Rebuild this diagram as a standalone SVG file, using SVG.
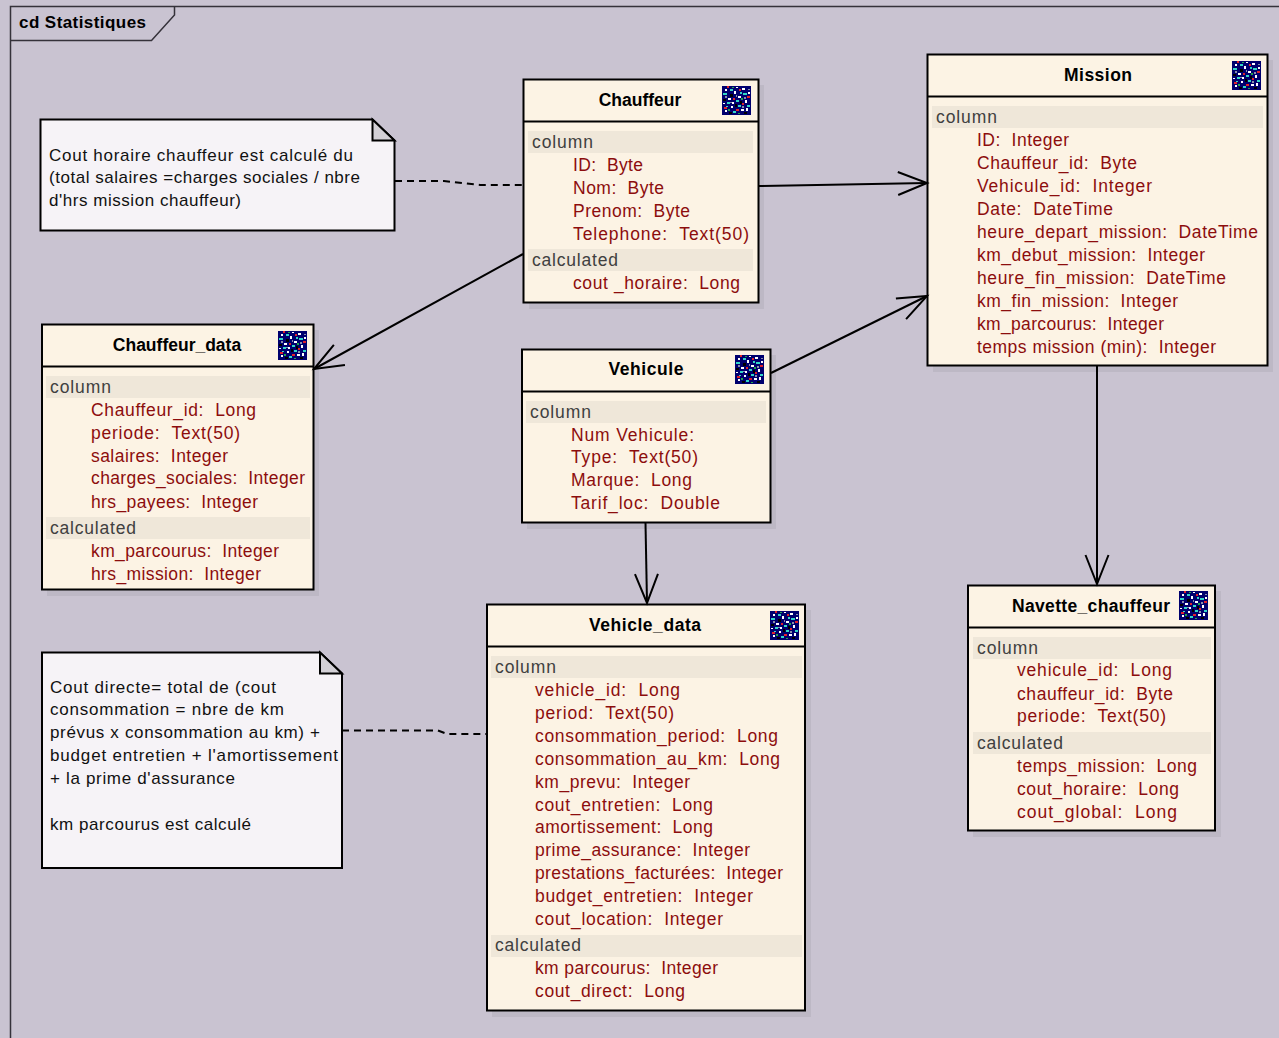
<svg xmlns="http://www.w3.org/2000/svg" width="1279" height="1038" viewBox="0 0 1279 1038">
<style>
text{font-family:"Liberation Sans",Arial,sans-serif;font-size:17.5px;white-space:pre}
.bg{fill:#c9c3d1}
.box{fill:#fcf3e4;stroke:#000;stroke-width:2}
.sh{fill:#bdb8c5}
.hd{stroke:#000;stroke-width:2;fill:none}
.band{fill:#efe7d9}
.t{font-weight:bold;text-anchor:middle;fill:#000}
.s{fill:#404040}
.r{fill:#8c0d0d}
.n{fill:#111;font-size:17px}
.note{fill:#f6f3f7;stroke:#000;stroke-width:2}
.fold{fill:#d3d0d6;stroke:#000;stroke-width:2}
.c{stroke:#000;stroke-width:2;fill:none}
.d{stroke:#000;stroke-width:2;fill:none;stroke-dasharray:7 5}
.fr{stroke:#35323a;stroke-width:1.5;fill:none}
</style>
<defs>
<marker id="open" markerUnits="userSpaceOnUse" markerWidth="34" markerHeight="30" refX="30" refY="15" orient="auto"><path d="M1 3.500 L30 15 L1 26.500" fill="none" stroke="#000" stroke-width="2"/></marker>
<symbol id="ic" viewBox="0 0 29 29" width="29" height="29">
<rect width="29" height="29" fill="#00006e"/>
<g fill="#fff"><rect x="3" y="3" width="2" height="2"/><rect x="12" y="5" width="2" height="3"/><rect x="20" y="2" width="3" height="2"/><rect x="6" y="12" width="3" height="2"/><rect x="16" y="10" width="3" height="2"/><rect x="23" y="14" width="2" height="3"/><rect x="9" y="20" width="2" height="2"/><rect x="19" y="23" width="3" height="2"/><rect x="3" y="24" width="2" height="2"/><rect x="24" y="22" width="2" height="3"/><rect x="14" y="1" width="2" height="1"/><rect x="10" y="16" width="2" height="2"/><rect x="1" y="17" width="2" height="1"/><rect x="26" y="6" width="2" height="2"/></g>
<g fill="#31d6c6"><rect x="1" y="7" width="4" height="2"/><rect x="8" y="3" width="3" height="2"/><rect x="5" y="16" width="3" height="2"/><rect x="14" y="14" width="3" height="2"/><rect x="21" y="7" width="4" height="2"/><rect x="11" y="25" width="3" height="2"/><rect x="25" y="19" width="3" height="2"/><rect x="16" y="19" width="3" height="2"/><rect x="4" y="20" width="2" height="1"/><rect x="18" y="6" width="2" height="2"/></g>
<g fill="#e0202c"><rect x="5" y="0" width="2" height="2"/><rect x="25" y="10" width="3" height="2"/><rect x="2" y="21" width="3" height="2"/><rect x="14" y="23" width="3" height="2"/><rect x="11" y="12" width="2" height="2"/><rect x="17" y="3" width="2" height="2"/><rect x="20" y="17" width="2" height="2"/></g>
<g fill="#000"><rect x="8" y="8" width="3" height="3"/><rect x="18" y="15" width="2" height="3"/><rect x="13" y="18" width="2" height="3"/><rect x="1" y="13" width="3" height="2"/><rect x="22" y="26" width="3" height="2"/><rect x="7" y="26" width="3" height="2"/></g>
<g fill="#8a8fa8"><rect x="14" y="9" width="1" height="2"/><rect x="20" y="20" width="2" height="2"/><rect x="8" y="16" width="2" height="1"/><rect x="26" y="3" width="2" height="1"/><rect x="3" y="10" width="2" height="2"/><rect x="22" y="11" width="2" height="2"/></g>
<g fill="#1fa84a"><rect x="10" y="1" width="2" height="1"/><rect x="19" y="12" width="2" height="2"/><rect x="6" y="23" width="2" height="2"/><rect x="16" y="27" width="2" height="1"/></g>
</symbol>
</defs>
<rect class="bg" width="1279" height="1038"/>
<g id="frame">
<path class="fr" d="M1279 6.500H10.500V1038"/>
<path class="fr" d="M10.500 40.500H151.500L174.500 15V6.500"/>
<text x="19" y="28" textLength="127" style="font-weight:bold;font-size:17px">cd Statistiques</text>
</g>
<g id="note1">
<path class="note" d="M40.500 119.500H372.500L394.500 140.500V230.500H40.500Z"/>
<path class="fold" d="M372.500 119.500L394.500 140.500H372.500Z"/>
<text class="n" x="49" y="161" textLength="304">Cout horaire chauffeur est calculé du</text>
<text class="n" x="49" y="183" textLength="311">(total salaires =charges sociales / nbre</text>
<text class="n" x="49" y="206" textLength="192">d'hrs mission chauffeur)</text>
</g>
<g id="note2">
<path class="note" d="M42 652.500H320L342 673.500V868H42Z"/>
<path class="fold" d="M320 652.500L342 673.500H320Z"/>
<text class="n" x="50" y="693" textLength="226">Cout directe= total de (cout</text>
<text class="n" x="50" y="715" textLength="234">consommation = nbre de km</text>
<text class="n" x="50" y="738" textLength="270">prévus x consommation au km) +</text>
<text class="n" x="50" y="761" textLength="288">budget entretien + l'amortissement</text>
<text class="n" x="50" y="784" textLength="185">+ la prime d'assurance</text>
<text class="n" x="50" y="830" textLength="201">km parcourus est calculé</text>
</g>
<g id="chauffeur">
<rect class="sh" x="529" y="85" width="235" height="224"/>
<rect class="box" x="523.500" y="79.500" width="235" height="223"/>
<path class="hd" d="M523.500 121.500H758"/>
<use href="#ic" x="722" y="86"/>
<rect class="band" x="528" y="131" width="225" height="22"/>
<rect class="band" x="528" y="249" width="225" height="22"/>
<text class="t" x="640" y="106">Chauffeur</text>
<text class="s" x="532" y="148" textLength="61">column</text>
<text class="r" x="573" y="171" textLength="70">ID:  Byte</text>
<text class="r" x="573" y="194" textLength="91">Nom:  Byte</text>
<text class="r" x="573" y="217" textLength="117">Prenom:  Byte</text>
<text class="r" x="573" y="240" textLength="176">Telephone:  Text(50)</text>
<text class="s" x="532" y="266" textLength="86">calculated</text>
<text class="r" x="573" y="289" textLength="167">cout _horaire:  Long</text>
</g>
<g id="mission">
<rect class="sh" x="933" y="60" width="340" height="312"/>
<rect class="box" x="927.500" y="54.500" width="340" height="311"/>
<path class="hd" d="M927.500 96.500H1267"/>
<use href="#ic" x="1232" y="61"/>
<rect class="band" x="932" y="106" width="331" height="22"/>
<text class="t" x="1098" y="81" textLength="68">Mission</text>
<text class="s" x="936" y="123" textLength="61">column</text>
<text class="r" x="977" y="146" textLength="92">ID:  Integer</text>
<text class="r" x="977" y="169" textLength="160">Chauffeur_id:  Byte</text>
<text class="r" x="977" y="192" textLength="175">Vehicule_id:  Integer</text>
<text class="r" x="977" y="215" textLength="136">Date:  DateTime</text>
<text class="r" x="977" y="238" textLength="281">heure_depart_mission:  DateTime</text>
<text class="r" x="977" y="261" textLength="228">km_debut_mission:  Integer</text>
<text class="r" x="977" y="284" textLength="249">heure_fin_mission:  DateTime</text>
<text class="r" x="977" y="307" textLength="201">km_fin_mission:  Integer</text>
<text class="r" x="977" y="330" textLength="187">km_parcourus:  Integer</text>
<text class="r" x="977" y="353" textLength="239">temps mission (min):  Integer</text>
</g>
<g id="chauffeur_data">
<rect class="sh" x="47" y="330" width="272" height="266"/>
<rect class="box" x="42" y="324.500" width="271.500" height="265"/>
<path class="hd" d="M42 366.500H313"/>
<use href="#ic" x="278" y="331"/>
<rect class="band" x="46" y="376" width="264" height="22"/>
<rect class="band" x="46" y="517" width="264" height="22"/>
<text class="t" x="177" y="351">Chauffeur_data</text>
<text class="s" x="50" y="393" textLength="61">column</text>
<text class="r" x="91" y="416" textLength="165">Chauffeur_id:  Long</text>
<text class="r" x="91" y="439" textLength="149">periode:  Text(50)</text>
<text class="r" x="91" y="462" textLength="137">salaires:  Integer</text>
<text class="r" x="91" y="484" textLength="214">charges_sociales:  Integer</text>
<text class="r" x="91" y="508" textLength="167">hrs_payees:  Integer</text>
<text class="s" x="50" y="534" textLength="86">calculated</text>
<text class="r" x="91" y="557" textLength="188">km_parcourus:  Integer</text>
<text class="r" x="91" y="580" textLength="170">hrs_mission:  Integer</text>
</g>
<g id="vehicule">
<rect class="sh" x="527" y="355" width="249" height="174"/>
<rect class="box" x="522" y="349.500" width="248.500" height="173"/>
<path class="hd" d="M522 391.500H770"/>
<use href="#ic" x="735" y="355"/>
<rect class="band" x="526" y="401" width="240" height="22"/>
<text class="t" x="646" y="375" textLength="75">Vehicule</text>
<text class="s" x="530" y="418" textLength="61">column</text>
<text class="r" x="571" y="441" textLength="123">Num Vehicule:</text>
<text class="r" x="571" y="463" textLength="127">Type:  Text(50)</text>
<text class="r" x="571" y="486" textLength="121">Marque:  Long</text>
<text class="r" x="571" y="509" textLength="149">Tarif_loc:  Double</text>
</g>
<g id="vehicle_data">
<rect class="sh" x="492" y="610" width="319" height="407"/>
<rect class="box" x="487" y="604.500" width="318" height="406"/>
<path class="hd" d="M487 646.500H805"/>
<use href="#ic" x="770" y="611"/>
<rect class="band" x="491" y="656" width="311" height="22"/>
<rect class="band" x="491" y="935" width="311" height="22"/>
<text class="t" x="645" y="631" textLength="112">Vehicle_data</text>
<text class="s" x="495" y="673" textLength="61">column</text>
<text class="r" x="535" y="696" textLength="145">vehicle_id:  Long</text>
<text class="r" x="535" y="719" textLength="139">period:  Text(50)</text>
<text class="r" x="535" y="742" textLength="243">consommation_period:  Long</text>
<text class="r" x="535" y="765" textLength="245">consommation_au_km:  Long</text>
<text class="r" x="535" y="788" textLength="155">km_prevu:  Integer</text>
<text class="r" x="535" y="811" textLength="178">cout_entretien:  Long</text>
<text class="r" x="535" y="833" textLength="178">amortissement:  Long</text>
<text class="r" x="535" y="856" textLength="215">prime_assurance:  Integer</text>
<text class="r" x="535" y="879" textLength="248">prestations_facturées:  Integer</text>
<text class="r" x="535" y="902" textLength="218">budget_entretien:  Integer</text>
<text class="r" x="535" y="925" textLength="188">cout_location:  Integer</text>
<text class="s" x="495" y="951" textLength="86">calculated</text>
<text class="r" x="535" y="974" textLength="183">km parcourus:  Integer</text>
<text class="r" x="535" y="997" textLength="150">cout_direct:  Long</text>
</g>
<g id="navette_chauffeur">
<rect class="sh" x="973" y="591" width="248" height="246"/>
<rect class="box" x="968" y="585.500" width="247" height="245"/>
<path class="hd" d="M968 627.500H1215"/>
<use href="#ic" x="1179" y="591"/>
<rect class="band" x="973" y="637" width="238" height="22"/>
<rect class="band" x="973" y="732" width="238" height="22"/>
<text class="t" x="1091" y="612" textLength="158">Navette_chauffeur</text>
<text class="s" x="977" y="654" textLength="61">column</text>
<text class="r" x="1017" y="676" textLength="155">vehicule_id:  Long</text>
<text class="r" x="1017" y="700" textLength="156">chauffeur_id:  Byte</text>
<text class="r" x="1017" y="722" textLength="149">periode:  Text(50)</text>
<text class="s" x="977" y="749" textLength="86">calculated</text>
<text class="r" x="1017" y="772" textLength="180">temps_mission:  Long</text>
<text class="r" x="1017" y="795" textLength="162">cout_horaire:  Long</text>
<text class="r" x="1017" y="818" textLength="160">cout_global:  Long</text>
</g>
<g id="connectors">
<path class="d" d="M395 181H444L480 185H523"/>
<path class="d" d="M342 730.500H438L447 734H487"/>
<path class="c" marker-end="url(#open)" d="M759 186L927 183"/>
<path class="c" marker-end="url(#open)" d="M523 254L314 369"/>
<path class="c" marker-end="url(#open)" d="M771 373L927 296"/>
<path class="c" marker-end="url(#open)" d="M645.500 523L647 603"/>
<path class="c" marker-end="url(#open)" d="M1097 366V584"/>
</g>
</svg>
